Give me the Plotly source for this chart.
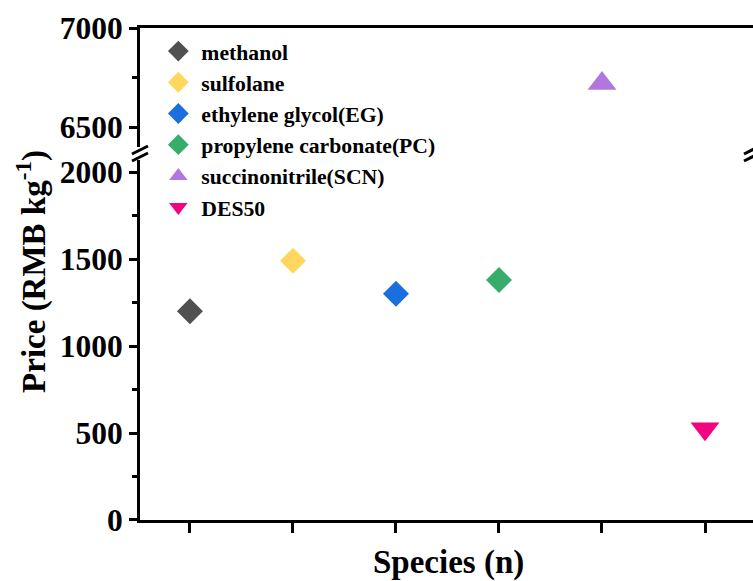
import plotly.graph_objects as go

species = ["methanol", "sulfolane", "ethylene glycol(EG)", "propylene carbonate(PC)",
           "succinonitrile(SCN)", "DES50"]
x_pos = [1, 2, 3, 4, 5, 6]
price = [1200, 1490, 1300, 1380, 6720, 525]
symbols = ["diamond", "diamond", "diamond", "diamond", "triangle-up", "triangle-down"]
colors = ["#505050", "#FFD75E", "#1A6FDF", "#37AD6B", "#B177DE", "#F0047F"]
sizes = [20, 20, 20, 20, 25, 25]

top_lo, top_hi = 6400, 7000
bot_lo, bot_hi = 0, 2070

fig = go.Figure()
for i in range(len(species)):
    on_top = price[i] >= top_lo
    fig.add_trace(go.Scatter(
        x=[x_pos[i]], y=[price[i]], mode="markers", name=species[i],
        legendgroup=species[i],
        marker=dict(symbol=symbols[i], color=colors[i], size=sizes[i], line=dict(width=0)),
        xaxis="x2" if on_top else "x", yaxis="y2" if on_top else "y",
    ))

font_family = "Liberation Serif"
tick_font = dict(family=font_family, size=31.5, color="black", weight="bold")
axis_common = dict(showgrid=False, zeroline=False, linecolor="black", linewidth=3,
                   ticks="outside", tickwidth=2.5, ticklen=8, tickcolor="black",
                   tickfont=tick_font)

x_range = [0.515, 6.466]
fig.update_layout(
    width=753, height=581,
    margin=dict(l=140, r=0, t=28, b=61),
    paper_bgcolor="white", plot_bgcolor="white",
    showlegend=True,
    legend=dict(x=0.025, y=0.995, xanchor="left", yanchor="top",
                font=dict(family=font_family, size=21.7, color="black", weight="bold"),
                tracegroupgap=0, traceorder="grouped",
                bgcolor="rgba(0,0,0,0)", itemwidth=36),
    xaxis=dict(range=x_range, showline=True, linecolor="black", linewidth=3,
               showgrid=False, zeroline=False, ticks="outside", tickwidth=2.5, ticklen=10,
               tickcolor="black", tickvals=x_pos, showticklabels=False,
               anchor="y", domain=[0, 1]),
    xaxis2=dict(range=x_range, showline=True, linecolor="black", linewidth=3,
                showgrid=False, zeroline=False, ticks="", showticklabels=False,
                anchor="y2", side="top", matches="x"),
    yaxis=dict(range=[bot_lo, bot_hi], domain=[0, 0.732], tickvals=[0, 500, 1000, 1500, 2000],
               minor=dict(tickvals=[250, 750, 1250, 1750], ticks="outside", ticklen=5,
                          tickwidth=2.5, tickcolor="black"),
               showline=True, anchor="x", **axis_common),
    yaxis2=dict(range=[top_lo, top_hi], domain=[0.758, 1], tickvals=[6500, 7000],
                minor=dict(tickvals=[6750], ticks="outside", ticklen=5,
                           tickwidth=2.5, tickcolor="black"),
                showline=True, anchor="x2", **axis_common),
    annotations=[
        dict(text="Price (RMB kg<sup>-1</sup>)", xref="paper", yref="paper",
             x=-0.178, y=(520 - 271) / 492, xanchor="center", yanchor="middle", textangle=-90,
             showarrow=False, font=dict(family=font_family, size=33, color="black", weight="bold")),
        dict(text="Species (n)", xref="paper", yref="paper",
             x=(448 - 140) / 613, y=(520 - 562) / 492, xanchor="center", yanchor="middle",
             showarrow=False, font=dict(family=font_family, size=33, color="black", weight="bold")),
    ],
)

# break marks (white gap + slanted double lines)
def brk(xc, yc):
    shapes = [dict(type="rect", xref="paper", yref="paper", x0=xc - 8 / 613, x1=xc + 8 / 613,
                   y0=(520 - 160) / 492, y1=(520 - 147) / 492,
                   fillcolor="white", line=dict(width=0), layer="above")]
    for dy in (-3.5, 3.5):
        shapes.append(dict(type="line", xref="paper", yref="paper",
                           x0=xc - 8 / 613, x1=xc + 8 / 613,
                           y0=yc + (dy - 4) / 492, y1=yc + (dy + 4) / 492,
                           line=dict(color="black", width=3), layer="above"))
    return shapes

shapes = brk(0, (520 - 153.5) / 492) + brk(612 / 613, (520 - 153.5) / 492)
fig.update_layout(shapes=shapes)

fig.write_html("out.html")
